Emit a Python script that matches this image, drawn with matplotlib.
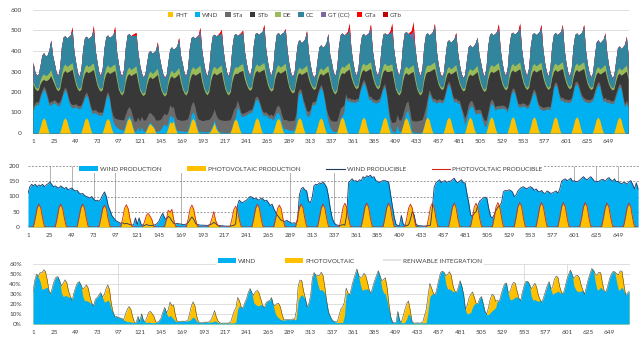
import numpy as np
import matplotlib
matplotlib.use("Agg")
import matplotlib.pyplot as plt
from matplotlib.patches import Patch
from matplotlib.lines import Line2D

plt.rcParams["font.family"] = ["Lato", "DejaVu Sans"]

# ---------------------------------------------------------------- data
# two-hourly readings: hours 1,3,5,...,23 of each of the 28 days (one row per day)
hours = np.arange(1, 673, 2)
hour_ticks = list(range(1, 650, 24))

pv_rows = [
    [0,0,0,2,30,62,75,62,28,2,0,0], [0,0,0,2,30,63,75,61,28,2,0,0],
    [0,0,0,2,31,62,75,62,29,2,0,0], [0,0,0,2,29,60,72,60,27,2,0,0],
    [0,0,0,2,29,61,73,60,27,2,0,0], [0,0,0,1,18,38,45,35,25,2,0,0],
    [0,0,0,2,25,55,48,58,25,2,0,0], [0,0,0,2,28,60,72,58,26,2,0,0],
    [0,0,0,1,10,28,50,22,8,1,0,0],  [0,0,0,2,27,57,68,56,25,2,0,0],
    [0,0,0,2,30,62,75,62,28,2,0,0], [0,0,0,2,29,60,72,60,27,2,0,0],
    [0,0,0,2,30,63,75,62,28,2,0,0], [0,0,0,2,30,62,75,62,28,2,0,0],
    [0,0,0,2,31,65,78,64,29,2,0,0], [0,0,0,2,31,65,78,65,29,2,0,0],
    [0,0,0,2,31,64,78,65,29,2,0,0], [0,0,0,2,30,62,75,62,28,2,0,0],
    [0,0,0,2,31,65,78,64,29,2,0,0], [0,0,0,2,31,65,78,65,29,2,0,0],
    [0,0,0,2,31,64,78,64,29,2,0,0], [0,0,0,2,32,66,80,66,30,2,0,0],
    [0,0,0,2,32,66,80,67,30,2,0,0], [0,0,0,2,32,67,80,66,30,2,0,0],
    [0,0,0,2,32,66,80,66,30,2,0,0], [0,0,0,2,32,66,80,67,30,2,0,0],
    [0,0,0,2,31,65,78,64,29,2,0,0], [0,0,0,2,31,64,78,65,29,2,0,0],
]

wind_rows = [
    [110,132,140,135,140,132,138,135,140,132,138,142],
    [148,140,132,135,130,128,135,130,126,130,122,125],
    [128,122,118,120,112,108,110,104,100,98,95,100],
    [92,86,88,84,92,105,115,100,70,55,38,30],
    [22,18,15,12,14,10,12,10,8,6,8,30],
    [8,30,10,6,5,8,6,5,5,6,8,12],
    [20,35,45,30,25,35,30,20,12,10,12,10],
    [10,8,8,10,15,25,33,25,12,8,7,6],
    [6,6,5,6,8,10,15,12,6,5,4,4],
    [3,3,3,3,4,5,10,70,88,82,80,85],
    [88,95,100,98,92,95,90,88,95,92,85,88],
    [80,70,75,60,48,38,30,22,20,18,22,18],
    [15,12,14,12,20,105,125,130,122,118,85,80],
    [95,135,140,138,145,142,148,140,130,100,60,30],
    [15,8,6,5,6,8,6,40,145,152,158,150],
    [152,148,155,152,165,160,168,165,170,162,165,152],
    [150,145,150,152,152,150,148,110,70,35,10,5],
    [5,38,10,5,4,8,25,50,40,10,5,4],
    [4,3,3,4,5,6,60,130,145,150,155,145],
    [150,152,146,150,150,155,160,150,145,150,155,145],
    [145,110,80,40,35,45,50,70,85,90,95,98],
    [94,60,35,30,40,55,65,70,80,115,120,118],
    [122,120,115,100,105,118,125,130,132,128,125,130],
    [132,128,120,125,118,115,120,112,110,118,115,110],
    [112,115,118,110,125,150,155,158,152,155,160,150],
    [152,148,150,154,160,165,158,155,160,165,158,150],
    [150,148,152,156,155,150,158,162,155,150,158,148],
    [150,145,142,146,145,140,148,152,140,125,145,125],
]

# total demand (top of the stack in the first panel)
load_rows = [
    [345,301,281,288,330,380,392,375,380,405,453,380],
    [340,298,279,318,420,468,475,462,470,478,519,400],
    [345,296,278,314,410,465,472,460,468,475,527,405],
    [348,299,280,316,415,470,478,465,472,480,522,400],
    [342,296,277,312,418,478,485,475,480,486,490,395],
    [335,294,274,288,345,395,402,390,395,405,445,375],
    [330,291,272,284,350,410,420,408,415,425,466,380],
    [340,296,278,316,412,465,472,462,470,478,515,402],
    [345,298,280,318,420,475,482,472,480,490,506,405],
    [342,296,279,316,418,478,485,475,482,490,502,400],
    [345,301,282,320,425,485,490,480,488,495,532,410],
    [348,302,283,318,422,482,490,478,486,492,510,405],
    [340,296,276,296,380,445,455,440,448,460,500,395],
    [335,292,272,288,360,420,430,418,425,440,486,385],
    [345,298,280,320,425,480,488,478,485,495,538,410],
    [348,301,282,318,420,478,485,475,482,490,532,405],
    [345,299,281,320,422,482,488,480,486,498,538,410],
    [348,302,283,322,428,488,495,485,492,500,545,415],
    [345,300,281,318,425,482,488,478,485,495,535,405],
    [340,296,276,294,375,445,455,442,450,460,491,395],
    [335,292,271,285,355,420,430,418,425,440,467,385],
    [342,298,278,318,425,480,488,478,485,495,535,408],
    [345,300,280,320,428,485,492,482,488,498,538,410],
    [345,300,281,318,425,482,490,480,486,495,530,408],
    [343,299,279,318,425,482,490,480,486,495,530,408],
    [343,298,278,316,422,480,488,478,484,492,530,405],
    [338,295,274,294,372,442,455,440,448,458,489,390],
    [332,291,270,284,350,415,425,412,420,432,473,380],
]

# upper edge of the steam (STa + STb) block
steam_top_rows = [
    [240,218,208,210,240,255,262,255,258,265,280,258],
    [238,216,206,215,265,295,305,295,300,305,312,272],
    [236,215,205,214,262,292,302,294,298,304,310,270],
    [235,214,204,212,260,290,300,290,295,300,305,262],
    [215,195,185,200,250,280,290,280,285,290,295,250],
    [210,192,182,192,235,265,275,265,270,278,285,245],
    [210,190,180,190,238,268,280,268,272,280,290,248],
    [215,195,185,200,252,282,292,282,286,292,298,252],
    [218,196,186,202,255,285,294,284,288,294,300,255],
    [216,195,185,200,252,282,292,290,298,302,306,265],
    [238,218,208,216,266,296,306,296,302,306,312,272],
    [235,214,204,212,262,292,302,292,296,302,308,262],
    [225,205,195,202,250,285,295,285,290,295,302,265],
    [240,222,212,218,255,282,292,282,288,295,300,262],
    [222,200,190,205,255,285,295,290,300,306,312,272],
    [245,225,215,225,270,300,310,300,305,310,315,275],
    [245,225,215,225,270,300,310,300,300,302,305,258],
    [215,195,185,200,252,285,295,285,290,296,300,255],
    [215,195,185,200,255,290,300,300,305,310,315,275],
    [240,222,212,218,258,288,298,288,292,298,305,268],
    [238,218,205,210,250,278,288,280,285,292,300,262],
    [232,212,202,212,262,292,302,295,300,306,312,272],
    [240,220,210,220,268,298,308,298,303,308,314,274],
    [242,222,212,222,268,298,308,298,302,308,312,272],
    [242,222,212,222,270,300,310,300,305,310,315,275],
    [245,225,215,225,270,300,310,300,305,310,315,275],
    [240,222,212,218,258,288,298,288,292,298,305,268],
    [238,220,210,215,252,282,292,282,288,295,302,262],
]

st_a_rows = [
    [15,14,14,15,16,16,16,16,15,15,16,15],
    [15,14,14,15,16,16,16,16,15,15,16,15],
    [15,14,14,15,16,16,16,16,15,15,16,15],
    [15,15,15,15,16,16,16,18,22,28,35,40],
    [45,48,50,50,48,45,45,45,48,50,50,48],
    [50,52,55,55,52,50,50,50,52,55,55,52],
    [50,50,52,55,52,48,48,50,52,55,55,52],
    [52,55,58,58,55,52,50,52,55,58,58,55],
    [55,58,60,60,58,55,52,55,58,60,60,58],
    [58,60,60,60,58,55,50,35,20,16,15,15],
    [15,14,14,15,16,16,16,16,15,15,16,15],
    [15,16,18,20,25,30,35,40,42,45,45,45],
    [45,48,48,48,45,30,18,15,15,20,25,25],
    [20,15,15,15,15,15,15,15,16,20,30,40],
    [45,50,52,52,50,48,45,35,18,15,15,15],
    [15,14,14,15,16,16,16,16,15,15,16,15],
    [15,15,15,15,15,15,16,20,28,35,42,48],
    [50,52,55,55,52,50,48,45,48,52,55,55],
    [55,58,60,60,58,55,35,18,15,15,15,15],
    [15,14,14,15,16,16,16,16,15,15,16,15],
    [15,18,22,30,32,30,28,25,22,20,20,18],
    [18,22,28,30,28,24,22,20,18,16,15,15],
    [15,14,14,15,16,16,16,16,15,15,16,15],
    [15,14,14,15,16,16,16,16,15,15,16,15],
    [15,14,14,15,16,16,16,16,15,15,16,15],
    [15,14,14,15,16,16,16,16,15,15,16,15],
    [15,14,14,15,16,16,16,16,15,15,16,15],
    [15,14,14,15,16,16,16,16,15,15,16,15],
]

de_rows = [
    [12,10,10,12,20,25,27,25,26,28,30,20],
    [14,10,10,14,25,30,32,30,30,32,32,22],
    [14,10,10,14,25,30,32,30,30,32,32,22],
    [14,10,10,14,25,30,32,30,30,32,32,22],
    [14,10,10,14,25,30,32,30,30,32,32,22],
    [12,10,10,12,20,25,27,25,26,28,30,20],
    [12,10,10,12,20,25,27,25,26,28,30,20],
    [14,10,10,14,25,30,32,30,30,32,32,22],
    [14,10,10,14,25,30,32,30,30,32,32,22],
    [14,10,10,14,25,30,32,30,30,32,32,22],
    [14,10,10,14,25,30,32,30,30,32,32,22],
    [14,10,10,14,25,30,32,30,30,32,32,22],
    [12,10,10,12,20,25,27,25,26,28,30,20],
    [12,10,10,12,20,25,27,25,26,28,30,20],
    [14,10,10,14,25,30,32,30,30,32,32,22],
    [14,10,10,14,25,30,32,30,30,32,32,22],
    [14,10,10,14,25,30,32,30,30,32,32,22],
    [14,10,10,14,25,30,32,30,30,32,32,22],
    [14,10,10,14,25,30,32,30,30,32,32,22],
    [12,10,10,12,20,25,27,25,26,28,30,20],
    [12,10,10,12,20,25,27,25,26,28,30,20],
    [14,10,10,14,25,30,32,30,30,32,32,22],
    [14,10,10,14,25,30,32,30,30,32,32,22],
    [14,10,10,14,25,30,32,30,30,32,32,22],
    [14,10,10,14,25,30,32,30,30,32,32,22],
    [14,10,10,14,25,30,32,30,30,32,32,22],
    [12,10,10,12,20,25,27,25,26,28,30,20],
    [12,10,10,12,20,25,27,25,26,28,30,20],
]

gt_cc_rows = [
    [0,4,5,3,0,0,0,0,0,0,0,0], [0,4,5,3,0,0,0,0,0,0,0,0],
    [0,4,5,3,0,0,0,0,0,0,0,0], [0,4,5,3,0,0,0,0,0,0,0,0],
    [0,4,5,3,0,0,0,0,0,0,0,0], [0,4,5,3,0,0,0,0,0,0,0,0],
    [0,4,5,3,0,0,0,0,0,0,0,0], [0,4,5,3,0,0,0,0,0,10,25,0],
    [0,4,5,3,0,0,0,0,0,0,5,0], [0,4,5,3,0,0,0,0,0,0,0,0],
    [0,4,5,3,0,0,0,0,0,0,0,0], [0,4,5,3,0,0,0,0,0,0,0,0],
    [0,4,5,3,0,0,0,0,0,0,0,0], [0,4,5,3,0,0,0,0,0,0,0,0],
    [0,4,5,3,0,0,0,0,0,0,8,0], [0,4,5,3,0,0,0,0,0,0,5,0],
    [0,4,5,3,0,0,0,0,0,5,10,0], [0,4,5,3,0,0,0,0,0,20,40,0],
    [0,4,5,3,0,0,0,0,0,0,0,0], [0,4,5,3,0,0,0,0,0,0,0,0],
    [0,4,5,3,0,0,0,0,0,0,0,0], [0,4,5,3,0,0,0,0,0,0,8,0],
    [0,4,5,3,0,0,0,0,0,0,8,0], [0,4,5,3,0,0,0,0,0,0,10,0],
    [0,4,5,3,0,0,0,0,0,0,0,0], [0,4,5,3,0,0,0,0,0,0,0,0],
    [0,4,5,3,0,0,0,0,0,0,0,0], [0,4,5,3,0,0,0,0,0,0,0,0],
]

gt_a_rows = [
    [0,0,0,0,0,0,0,0,0,0,0,0],  [0,0,0,0,0,0,0,0,0,0,15,0],
    [0,0,0,0,0,0,0,0,0,0,15,0], [0,0,0,0,0,0,0,0,0,0,15,0],
    [0,0,0,0,0,0,0,0,6,10,12,0],[0,0,0,0,0,0,0,0,0,0,8,0],
    [0,0,0,0,0,0,0,0,0,0,8,0],  [0,0,0,0,0,0,0,0,0,0,10,0],
    [0,0,0,0,0,0,0,0,0,10,15,0],[0,0,0,0,0,0,0,0,0,6,12,0],
    [0,0,0,0,0,0,0,0,0,0,15,0], [0,0,0,0,0,0,0,0,0,0,8,0],
    [0,0,0,0,0,0,0,0,0,0,5,0],  [0,0,0,0,0,0,0,0,0,0,3,0],
    [0,0,0,0,0,0,0,0,0,10,20,0],[0,0,0,0,0,0,0,0,0,0,15,0],
    [0,0,0,0,0,0,0,0,0,10,25,0],[0,0,0,0,0,0,0,0,8,15,30,0],
    [0,0,0,0,0,0,0,0,0,0,12,0], [0,0,0,0,0,0,0,0,0,0,8,0],
    [0,0,0,0,0,0,0,0,0,0,0,0],  [0,0,0,0,0,0,0,0,0,0,15,0],
    [0,0,0,0,0,0,0,0,0,0,15,0], [0,0,0,0,0,0,0,0,0,0,12,0],
    [0,0,0,0,0,0,0,0,0,0,10,0], [0,0,0,0,0,0,0,0,0,0,8,0],
    [0,0,0,0,0,0,0,0,0,0,5,0],  [0,0,0,0,0,0,0,0,0,0,5,0],
]

gt_b_rows = [
    [0,0,0,0,0,0,0,0,0,0,0,0], [0,0,0,0,0,0,0,0,0,0,5,0],
    [0,0,0,0,0,0,0,0,0,0,8,0], [0,0,0,0,0,0,0,0,0,0,6,0],
    [0,0,0,0,0,0,0,0,0,0,0,0], [0,0,0,0,0,0,0,0,0,0,0,0],
    [0,0,0,0,0,0,0,0,0,0,0,0], [0,0,0,0,0,0,0,0,0,0,0,0],
    [0,0,0,0,0,0,0,0,0,0,0,0], [0,0,0,0,0,0,0,0,0,0,0,0],
    [0,0,0,0,0,0,0,0,0,0,6,0], [0,0,0,0,0,0,0,0,0,0,0,0],
    [0,0,0,0,0,0,0,0,0,0,0,0], [0,0,0,0,0,0,0,0,0,0,0,0],
    [0,0,0,0,0,0,0,0,0,0,8,0], [0,0,0,0,0,0,0,0,0,0,0,0],
    [0,0,0,0,0,0,0,0,0,0,10,0],[0,0,0,0,0,0,0,0,0,0,12,0],
    [0,0,0,0,0,0,0,0,0,0,0,0], [0,0,0,0,0,0,0,0,0,0,0,0],
    [0,0,0,0,0,0,0,0,0,0,0,0], [0,0,0,0,0,0,0,0,0,0,5,0],
    [0,0,0,0,0,0,0,0,0,0,6,0], [0,0,0,0,0,0,0,0,0,0,0,0],
    [0,0,0,0,0,0,0,0,0,0,0,0], [0,0,0,0,0,0,0,0,0,0,0,0],
    [0,0,0,0,0,0,0,0,0,0,0,0], [0,0,0,0,0,0,0,0,0,0,0,0],
]

mix_labels = ["PHT", "WND", "STa", "STb", "DE", "CC", "GT (CC)", "GTa", "GTb"]
panel2_labels = ["WIND PRODUCTION", "PHOTOVOLTAIC PRODUCTION",
                 "WIND PRODUCIBLE", "PHOTOVOLTAIC PRODUCIBLE"]
panel3_labels = ["WIND", "PHOTOVOLTAIC", "RENWABLE INTEGRATION"]
panel2_vlines = [25, 49, 73, 97, 169, 289, 337, 601, 625, 649]
panel3_vlines = [97, 553, 601]

# ---------------------------------------------------------------- derived
pv = np.array(pv_rows, float).ravel()
wind = np.array(wind_rows, float).ravel()
load = np.array(load_rows, float).ravel()
steam_top = np.array(steam_top_rows, float).ravel()
st_a = np.array(st_a_rows, float).ravel()
de = np.array(de_rows, float).ravel()
gt_cc = np.array(gt_cc_rows, float).ravel()
gt_a = np.array(gt_a_rows, float).ravel()
gt_b = np.array(gt_b_rows, float).ravel()
st_b = np.clip(steam_top - pv - wind - st_a, 0, None)
cc = np.clip(load - (pv + wind + st_a + st_b + de + gt_cc + gt_a + gt_b), 0, None)

wind_share = wind / load * 100
pv_share = pv / load * 100

# ---------------------------------------------------------------- style
C_PV, C_WIND = "#FFC000", "#00B0F0"
mix_colors = [C_PV, C_WIND, "#6B6B6B", "#383838", "#9BBB59", "#31859C",
              "#8064A2", "#FF0000", "#C00000"]
TXT = "#404040"
FS = 4.6
W, H = 643, 338

fig = plt.figure(figsize=(W / 100, H / 100), dpi=100)

def style(ax, ypad):
    for s in ax.spines.values():
        s.set_visible(False)
    ax.set_xticks(hour_ticks)
    ax.set_xticklabels([str(h) for h in hour_ticks])
    ax.tick_params(axis="both", length=0, labelsize=FS, colors=TXT)
    ax.tick_params(axis="x", pad=4.3)
    ax.tick_params(axis="y", pad=ypad)
    ax.set_xlim(1, 672)
    ax.set_axisbelow(True)

# ---- panel 1 : generation mix
ax1 = fig.add_axes([33 / W, 1 - 133 / H, 596 / W, 123 / H])
layers = [pv, wind, st_a, st_b, de, cc, gt_cc, gt_a, gt_b]
cum = np.cumsum(layers, axis=0)
for i in reversed(range(len(layers))):
    ax1.fill_between(hours, 0, cum[i], color=mix_colors[i], lw=0)
ax1.set_ylim(0, 600)
ax1.set_yticks(range(0, 601, 100))
ax1.grid(axis="y", color="#D9D9D9", lw=0.6)
style(ax1, 8)
h1 = [Patch(facecolor=c, edgecolor="none") for c in mix_colors]
fig.legend(h1, mix_labels, loc="center", bbox_to_anchor=(285 / W, 1 - 15 / H),
           ncol=9, fontsize=FS, frameon=True, facecolor="white", edgecolor="none",
           framealpha=1, handlelength=0.8, handleheight=0.8, handletextpad=0.35,
           columnspacing=1.1, borderpad=0.25, labelcolor=TXT)

# ---- panel 2 : renewable production / producible
ax2 = fig.add_axes([28 / W, 1 - 227 / H, 611 / W, 61 / H])
ax2.vlines(panel2_vlines, 0, 200, color="#A6A6A6", lw=0.6, zorder=0.5)
ax2.fill_between(hours, 0, wind, color=C_WIND, lw=0, zorder=1)
ax2.fill_between(hours, 0, pv, color=C_PV, lw=0, zorder=2)
ax2.plot(hours, wind, color="#1F3864", lw=0.6, zorder=3)
ax2.plot(hours, pv, color="#D62718", lw=0.6, zorder=4)
ax2.set_ylim(0, 200)
ax2.set_yticks(range(0, 201, 50))
ax2.grid(axis="y", color="#7F7F7F", lw=0.55, ls=(0, (2.5, 2)))
style(ax2, 6)
h2 = [Patch(facecolor=C_WIND, edgecolor="none"), Patch(facecolor=C_PV, edgecolor="none"),
      Line2D([], [], color="#1F3864", lw=0.8), Line2D([], [], color="#D62718", lw=0.8)]
fig.legend(h2, panel2_labels, loc="center", bbox_to_anchor=(311 / W, 1 - 169 / H),
           ncol=4, fontsize=FS, frameon=True, facecolor="white", edgecolor="none",
           framealpha=1, handlelength=2.9, handleheight=0.8, handletextpad=0.35,
           columnspacing=4.0, borderpad=0.25, labelcolor=TXT)

# ---- panel 3 : renewable integration share
ax3 = fig.add_axes([33 / W, 1 - 324 / H, 597 / W, 60 / H])
ax3.vlines(panel3_vlines, 0, 60, color="#D9D9D9", lw=0.6, zorder=0.5)
ax3.fill_between(hours, 0, wind_share + pv_share, color=C_PV, lw=0, zorder=1)
ax3.fill_between(hours, 0, wind_share, color=C_WIND, lw=0, zorder=2)
ax3.plot(hours, wind_share + pv_share, color="#3A3A3A", lw=0.35, zorder=3)
ax3.set_ylim(0, 60)
pct_ticks = list(range(0, 61, 10))
ax3.set_yticks(pct_ticks)
ax3.set_yticklabels([f"{p}%" for p in pct_ticks])
ax3.grid(axis="y", color="#D9D9D9", lw=0.6)
style(ax3, 8)
h3 = [Patch(facecolor=C_WIND, edgecolor="none"), Patch(facecolor=C_PV, edgecolor="none"),
      Line2D([], [], color="#3A3A3A", lw=0.2)]
fig.legend(h3, panel3_labels, loc="center", bbox_to_anchor=(350 / W, 1 - 261 / H),
           ncol=3, fontsize=FS, frameon=True, facecolor="white", edgecolor="none",
           framealpha=1, handlelength=2.8, handleheight=0.8, handletextpad=0.35,
           columnspacing=4.5, borderpad=0.25, labelcolor=TXT)

fig.savefig("out.png", dpi=100, facecolor="white")
